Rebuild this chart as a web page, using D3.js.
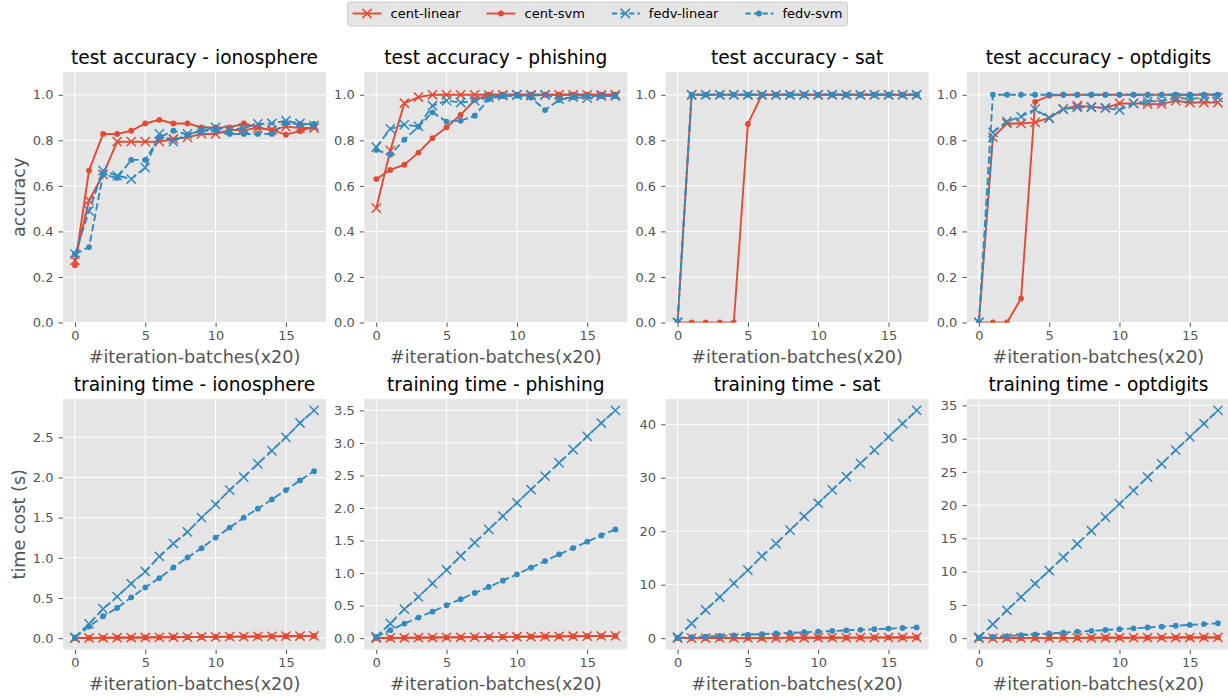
<!DOCTYPE html>
<meta charset="utf-8">
<style>
body { margin: 0; background: #fff; font-family: "DejaVu Sans", sans-serif; }
.tick text { fill: #555; font-size: 13px; font-family: "DejaVu Sans", sans-serif; }
.tick line { stroke: #555; }
.grid line { stroke: #fff; stroke-width: 1px; }
.title { font-size: 18.6px; fill: #000; text-anchor: middle; }
.xlabel, .ylabel { font-size: 17.6px; fill: #555; text-anchor: middle; }
.legend text { font-size: 13px; fill: #000; }
</style>
<svg id="fig" width="1228" height="700"></svg>
<script src="https://d3js.org/d3.v7.min.js"></script>
<script>
// x = iteration batch index (x20)
var iterations = [0,1,2,3,4,5,6,7,8,9,10,11,12,13,14,15,16,17];
var datasets = ["ionosphere", "phishing", "sat", "optdigits"];
var seriesNames = ["cent-linear", "cent-svm", "fedv-linear", "fedv-svm"];

// accuracy, one row per series (same order as seriesNames)
var accIonosphere = [
  [0.273,0.536,0.65,0.794,0.794,0.794,0.794,0.806,0.813,0.828,0.828,0.845,0.845,0.854,0.845,0.86,0.854,0.854],
  [0.251,0.667,0.828,0.828,0.842,0.874,0.89,0.874,0.874,0.857,0.857,0.857,0.874,0.857,0.845,0.825,0.84,0.86],
  [0.30,0.49,0.667,0.645,0.63,0.68,0.828,0.794,0.828,0.842,0.857,0.845,0.854,0.872,0.874,0.886,0.874,0.864],
  [0.30,0.331,0.65,0.635,0.714,0.714,0.813,0.842,0.825,0.842,0.842,0.828,0.828,0.828,0.828,0.876,0.872,0.872]
];
var accPhishing = [
  [0.502,0.755,0.963,0.99,1,1,1,1,1,1,1,1,1,1,1,1,1,1],
  [0.63,0.67,0.693,0.746,0.81,0.857,0.912,0.977,1,1,1,1,1,1,1,1,1,1],
  [0.77,0.85,0.869,0.861,0.952,0.974,0.966,0.974,0.988,0.996,1,0.996,1,0.981,0.99,0.985,0.994,0.994],
  [0.758,0.737,0.803,0.86,0.923,0.882,0.886,0.908,0.981,0.994,0.996,0.988,0.933,0.977,0.99,0.994,0.994,0.994]
];
var accSat = [
  [0,1,1,1,1,1,1,1,1,1,1,1,1,1,1,1,1,1],
  [0,0,0,0,0,0.872,1,1,1,1,1,1,1,1,1,1,1,1],
  [0,1,1,1,1,1,1,1,1,1,1,1,1,1,1,1,1,1],
  [0,1,1,1,1,1,1,1,1,1,1,1,1,1,1,1,1,1]
];
var accOptdigits = [
  [0,0.813,0.874,0.874,0.879,0.898,0.937,0.952,0.947,0.942,0.962,0.962,0.959,0.959,0.974,0.966,0.966,0.966],
  [0,0,0,0.105,0.969,0.996,1,1,1,1,1,1,1,1,1,1,1,1],
  [0,0.835,0.883,0.904,0.937,0.898,0.937,0.945,0.945,0.942,0.933,0.962,0.971,0.971,0.988,0.981,0.988,0.988],
  [0,1,1,1,1,1,1,1,1,1,1,1,1,1,1,1,1,1]
];

// training time in seconds
var timeIonosphere = [
  [0.002,0.003,0.005,0.006,0.008,0.009,0.011,0.012,0.014,0.016,0.017,0.019,0.02,0.022,0.023,0.025,0.027,0.028],
  [0.001,0.003,0.004,0.006,0.007,0.009,0.01,0.012,0.013,0.015,0.016,0.018,0.02,0.021,0.023,0.024,0.026,0.027],
  [0.01,0.178,0.364,0.517,0.68,0.83,1.017,1.178,1.322,1.5,1.665,1.843,2.004,2.17,2.335,2.5,2.678,2.835],
  [0.01,0.145,0.273,0.376,0.508,0.632,0.748,0.88,1.004,1.12,1.252,1.376,1.5,1.612,1.727,1.843,1.963,2.079]
];
var timePhishing = [
  [0.002,0.004,0.006,0.008,0.01,0.012,0.014,0.016,0.018,0.02,0.022,0.024,0.026,0.028,0.03,0.032,0.034,0.036],
  [0.001,0.003,0.005,0.007,0.009,0.011,0.013,0.015,0.017,0.019,0.021,0.023,0.025,0.027,0.029,0.031,0.033,0.035],
  [0.02,0.225,0.445,0.634,0.843,1.048,1.262,1.467,1.671,1.875,2.08,2.284,2.489,2.693,2.897,3.10,3.306,3.5],
  [0.02,0.123,0.225,0.317,0.409,0.506,0.598,0.695,0.787,0.884,0.981,1.083,1.185,1.288,1.385,1.482,1.579,1.671]
];
var timeSat = [
  [0.005,0.012,0.02,0.027,0.035,0.043,0.05,0.058,0.066,0.073,0.081,0.089,0.097,0.104,0.112,0.12,0.128,0.135],
  [0.004,0.01,0.017,0.024,0.031,0.038,0.045,0.052,0.059,0.066,0.073,0.08,0.087,0.094,0.101,0.108,0.115,0.122],
  [0.2,2.73,5.27,7.69,10.23,12.71,15.32,17.67,20.2,22.76,25.24,27.72,30.2,32.68,35.16,37.64,40.12,42.6],
  [0.05,0.18,0.3,0.41,0.53,0.64,0.76,0.87,0.99,1.1,1.21,1.33,1.44,1.56,1.67,1.78,1.9,2.01]
];
var timeOptdigits = [
  [0.004,0.01,0.016,0.022,0.028,0.034,0.04,0.046,0.052,0.058,0.064,0.07,0.076,0.082,0.088,0.094,0.1,0.106],
  [0.003,0.009,0.015,0.021,0.027,0.033,0.039,0.045,0.051,0.057,0.063,0.069,0.075,0.081,0.087,0.093,0.099,0.105],
  [0.15,2.09,4.19,6.18,8.18,10.17,12.16,14.16,16.15,18.2,20.19,22.18,24.23,26.22,28.27,30.26,32.25,34.25],
  [0.05,0.18,0.31,0.44,0.57,0.7,0.83,0.96,1.09,1.22,1.35,1.47,1.6,1.73,1.86,1.99,2.11,2.24]
];

var xTicks = [0, 5, 10, 15];
var accTicks = [0, 0.2, 0.4, 0.6, 0.8, 1.0];
var timeTicks = [
  [0, 0.5, 1.0, 1.5, 2.0, 2.5],
  [0, 0.5, 1.0, 1.5, 2.0, 2.5, 3.0, 3.5],
  [0, 10, 20, 30, 40],
  [0, 5, 10, 15, 20, 25, 30, 35]
];

var accData = [accIonosphere, accPhishing, accSat, accOptdigits];
var timeData = [timeIonosphere, timePhishing, timeSat, timeOptdigits];

var colors = ["#E24A33", "#E24A33", "#348ABD", "#348ABD"];
var markers = ["x", "dot", "x", "dot"];
var dashes = [null, null, "7.4,3.2", "7.4,3.2"];

var svg = d3.select("#fig");
var panelW = 263, panelH = 250.5, colStep = 301.3, left0 = 63;
var rowTop = [72, 399];

function drawMarkers(g, pts, kind, color) {
  if (kind === "x") {
    var s = 4.6;
    g.selectAll(null).data(pts).enter().append("path")
      .attr("d", function(p) {
        return "M" + (p[0]-s) + "," + (p[1]-s) + "L" + (p[0]+s) + "," + (p[1]+s) +
               "M" + (p[0]-s) + "," + (p[1]+s) + "L" + (p[0]+s) + "," + (p[1]-s);
      })
      .attr("stroke", color).attr("stroke-width", 1.5).attr("fill", "none");
  } else {
    g.selectAll(null).data(pts).enter().append("circle")
      .attr("cx", function(p) { return p[0]; })
      .attr("cy", function(p) { return p[1]; })
      .attr("r", 2.9).attr("fill", color);
  }
}

function panel(row, col, series, yDomain, yTicks, yFmt, title, ylabel) {
  var x0 = left0 + col * colStep, y0 = rowTop[row];
  var x = d3.scaleLinear().domain([-0.85, 17.85]).range([0, panelW]);
  var y = d3.scaleLinear().domain(yDomain).range([panelH, 0]);
  var g = svg.append("g").attr("transform", "translate(" + x0 + "," + y0 + ")");
  var id = "clip" + row + col;

  g.append("clipPath").attr("id", id).append("rect")
    .attr("width", panelW).attr("height", panelH);
  g.append("rect").attr("width", panelW).attr("height", panelH).attr("fill", "#E5E5E5");

  var grid = g.append("g").attr("class", "grid");
  grid.selectAll(".gx").data(xTicks).enter().append("line")
    .attr("x1", x).attr("x2", x).attr("y1", 0).attr("y2", panelH);
  grid.selectAll(".gy").data(yTicks).enter().append("line")
    .attr("y1", y).attr("y2", y).attr("x1", 0).attr("x2", panelW);

  g.append("g").attr("transform", "translate(0," + panelH + ")")
    .call(d3.axisBottom(x).tickValues(xTicks).tickFormat(d3.format("d")).tickSize(4.5).tickPadding(3.5))
    .call(function(a) { a.select(".domain").remove(); });
  g.append("g")
    .call(d3.axisLeft(y).tickValues(yTicks).tickFormat(d3.format(yFmt)).tickSize(4.5).tickPadding(5))
    .call(function(a) { a.select(".domain").remove(); });

  var plot = g.append("g").attr("clip-path", "url(#" + id + ")");
  var line = d3.line().x(function(d, i) { return x(iterations[i]); }).y(function(d) { return y(d); });
  series.forEach(function(vals, k) {
    plot.append("path").datum(vals)
      .attr("d", line)
      .attr("fill", "none")
      .attr("stroke", colors[k])
      .attr("stroke-width", 1.9)
      .attr("stroke-dasharray", dashes[k]);
    var pts = vals.map(function(v, i) { return [x(iterations[i]), y(v)]; });
    drawMarkers(plot.append("g"), pts, markers[k], colors[k]);
  });

  g.append("text").attr("class", "title")
    .attr("x", panelW / 2).attr("y", -8.5).text(title);
  g.append("text").attr("class", "xlabel")
    .attr("x", panelW / 2).attr("y", panelH + 40).text("#iteration-batches(x20)");
  if (ylabel) {
    g.append("text").attr("class", "ylabel")
      .attr("transform", "translate(" + (25 - x0) + "," + (panelH / 2) + ")rotate(-90)")
      .text(ylabel);
  }
}

datasets.forEach(function(name, c) {
  panel(0, c, accData[c], [0, 1.1], accTicks, ".1f",
        "test accuracy - " + name, c === 0 ? "accuracy" : null);

  var all = d3.merge(timeData[c]);
  var lo = d3.min(all), hi = d3.max(all), pad = (hi - lo) * 0.05;
  var fmt = timeTicks[c][timeTicks[c].length - 1] >= 10 ? "d" : ".1f";
  panel(1, c, timeData[c], [lo - pad, hi + pad], timeTicks[c], fmt,
        "training time - " + name, c === 0 ? "time cost (s)" : null);
});

// figure legend, centred at the top
var legend = svg.append("g").attr("class", "legend");
var box = legend.append("rect");
var items = legend.append("g");
var cx = 0;
seriesNames.forEach(function(name, k) {
  var it = items.append("g").attr("transform", "translate(" + cx + ",0)");
  it.append("line").attr("x1", 0).attr("x2", 29).attr("y1", 0).attr("y2", 0)
    .attr("stroke", colors[k]).attr("stroke-width", 1.9)
    .attr("stroke-dasharray", dashes[k] ? "5.5,3" : null)
    .attr("stroke-dashoffset", dashes[k] ? -1 : null);
  drawMarkers(it, [[14.5, 0]], markers[k], colors[k]);
  var t = it.append("text").attr("x", 38).attr("dy", "0.35em").text(name);
  cx += 38 + t.node().getComputedTextLength() + 26;
});
var totalW = cx - 26;
var lx = 597.5 - totalW / 2;
items.attr("transform", "translate(" + lx + ",13.5)");
box.attr("x", lx - 5).attr("y", 2).attr("width", totalW + 10).attr("height", 24)
  .attr("rx", 3).attr("fill", "#E5E5E5").attr("stroke", "#CCCCCC").attr("stroke-width", 1);
</script>
